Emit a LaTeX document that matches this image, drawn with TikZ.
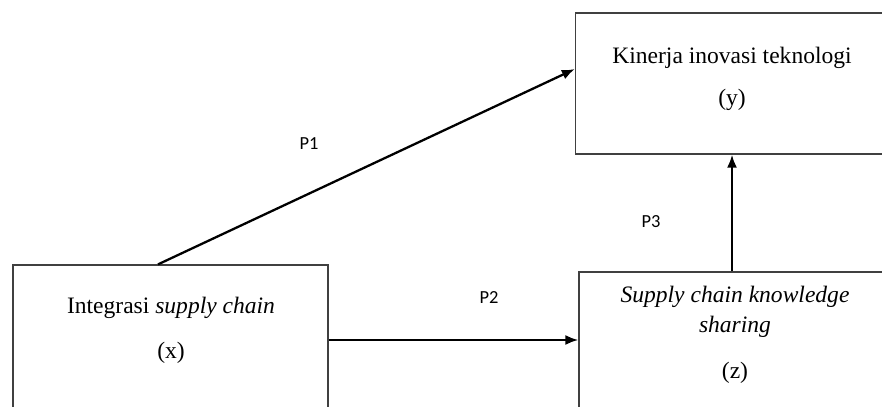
\documentclass[tikz,border=0pt]{standalone}
\usepackage{fontspec}
\setmainfont{Liberation Serif}
\newfontfamily\labelfont{Carlito}
\usepackage{tikz}
\usetikzlibrary{arrows.meta}

\begin{document}
\begin{tikzpicture}[x=0.02cm,y=-0.02cm,
	box/.style={draw=black!75, line width=0.7pt, shape=rectangle, inner sep=0pt},
	txt/.style={font=\fontsize{13.4}{16}\selectfont, inner sep=0pt},
	plabel/.style={font=\labelfont\fontsize{10.5}{12}\selectfont, inner sep=0pt},
	arr/.style={line width=1.3pt, -{Latex[length=2.6mm,width=2mm]}}]
	\useasboundingbox (0,0) rectangle (882,406);

	\node [box, minimum width=313*0.02cm, minimum height=141*0.02cm] (y) at (732, 83.5) {};
	\node [box, minimum width=315*0.02cm, minimum height=150*0.02cm] (x) at (170.5, 340) {};
	\node [box, minimum width=306*0.02cm, minimum height=160*0.02cm] (z) at (732, 352) {};

	\node [txt] (ytitle) at (732, 58) {Kinerja inovasi teknologi};
	\node [txt] (yvar) at (732, 100) {(y)};
	\node [txt] (xtitle) at (171, 308) {Integrasi \textit{supply chain}};
	\node [txt] (xvar) at (171, 353) {(x)};
	\node [txt] (ztitle1) at (735, 297) {\textit{Supply chain knowledge}};
	\node [txt] (ztitle2) at (735, 327) {\textit{sharing}};
	\node [txt] (zvar) at (735, 373) {(z)};

	\node [plabel] (p1) at (309, 144) {P1};
	\node [plabel] (p2) at (489, 298) {P2};
	\node [plabel] (p3) at (651, 222) {P3};

	\draw [fill=none, arr] ([xshift=-0.25cm]x.north) to ([yshift=0.29cm]y.west);
	\draw [fill=none, arr] (x.east) to (x.east -| z.west);
	\draw [fill=none, arr] (z.north) to (y.south);
\end{tikzpicture}
\end{document}
